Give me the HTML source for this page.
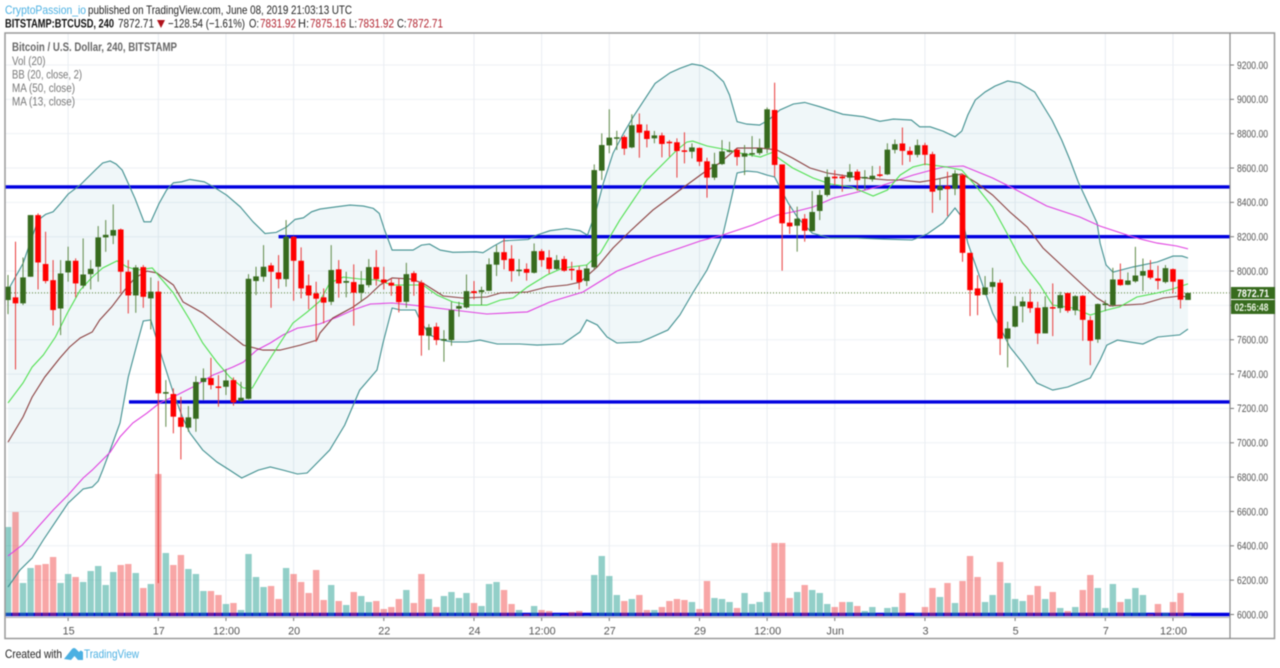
<!DOCTYPE html>
<html><head><meta charset="utf-8"><title>BTCUSD chart</title>
<style>
html,body{margin:0;padding:0;background:#fff;width:1280px;height:668px;overflow:hidden}
svg{display:block;font-family:"Liberation Sans",sans-serif;filter:blur(.4px)}
</style></head>
<body>
<svg id="chart" xmlns="http://www.w3.org/2000/svg" width="1280" height="668" viewBox="0 0 1280 668">
<rect width="1280" height="668" fill="#fff"/>
<text x="5" y="14" font-size="12" fill="#4bb0e2" textLength="81" lengthAdjust="spacingAndGlyphs">CryptoPassion_io</text>
<text x="88" y="14" font-size="12" fill="#222" textLength="264" lengthAdjust="spacingAndGlyphs">published on TradingView.com, June 08, 2019 21:03:13 UTC</text>
<text x="5" y="27.5" font-size="12" font-weight="bold" fill="#111" textLength="109" lengthAdjust="spacingAndGlyphs">BITSTAMP:BTCUSD, 240</text>
<text x="118" y="27.5" font-size="12" fill="#222" textLength="36" lengthAdjust="spacingAndGlyphs">7872.71</text>
<polygon points="157,20 165,20 161,28" fill="#b0121b"/>
<text x="168" y="27.5" font-size="12" fill="#222" textLength="77" lengthAdjust="spacingAndGlyphs">−128.54 (−1.61%)</text>
<text x="249" y="27.5" font-size="12" fill="#222" textLength="10" lengthAdjust="spacingAndGlyphs">O:</text>
<text x="260" y="27.5" font-size="12" fill="#b0202c" textLength="36" lengthAdjust="spacingAndGlyphs">7831.92</text>
<text x="298" y="27.5" font-size="12" fill="#222" textLength="11" lengthAdjust="spacingAndGlyphs">H:</text>
<text x="310" y="27.5" font-size="12" fill="#b0202c" textLength="36" lengthAdjust="spacingAndGlyphs">7875.16</text>
<text x="349" y="27.5" font-size="12" fill="#222" textLength="8" lengthAdjust="spacingAndGlyphs">L:</text>
<text x="358" y="27.5" font-size="12" fill="#b0202c" textLength="36" lengthAdjust="spacingAndGlyphs">7831.92</text>
<text x="397" y="27.5" font-size="12" fill="#222" textLength="9.5" lengthAdjust="spacingAndGlyphs">C:</text>
<text x="407" y="27.5" font-size="12" fill="#b0202c" textLength="36" lengthAdjust="spacingAndGlyphs">7872.71</text>
<g id="grid"></g>
<g id="bbfill"></g>
<g id="levels"></g>
<g id="volume"></g>
<g id="lines"></g>
<g id="candles"></g>
<g id="axes"></g>
<rect x="5" y="33" width="1269.5" height="605.5" fill="none" stroke="#999" stroke-width="1.5"/>
<line x1="1230" y1="33" x2="1230" y2="638.5" stroke="#888" stroke-width="1.2"/>
<line x1="5" y1="617.5" x2="1230" y2="617.5" stroke="#aaa" stroke-width="1"/>
<rect x="1231" y="287" width="44" height="12" fill="#376b1e"/>
<text x="1237" y="296.8" font-size="10.8" font-weight="bold" fill="#fff" textLength="32" lengthAdjust="spacingAndGlyphs">7872.71</text>
<rect x="1231" y="300" width="44" height="14" fill="#376b1e"/>
<text x="1234.5" y="310.8" font-size="10.8" font-weight="bold" fill="#e8f2e0" textLength="34" lengthAdjust="spacingAndGlyphs">02:56:48</text>
<text x="12" y="51" font-size="11.5" font-weight="bold" fill="#666" textLength="165" lengthAdjust="spacingAndGlyphs">Bitcoin / U.S. Dollar, 240, BITSTAMP</text>
<text x="12" y="65" font-size="11.5" fill="#777" textLength="33.5" lengthAdjust="spacingAndGlyphs">Vol (20)</text>
<text x="12" y="78.5" font-size="11.5" fill="#777" textLength="70" lengthAdjust="spacingAndGlyphs">BB (20, close, 2)</text>
<text x="12" y="92" font-size="11.5" fill="#777" textLength="63" lengthAdjust="spacingAndGlyphs">MA (50, close)</text>
<text x="12" y="105.5" font-size="11.5" fill="#777" textLength="63" lengthAdjust="spacingAndGlyphs">MA (13, close)</text>
<text x="5" y="658" font-size="12" fill="#222" textLength="57" lengthAdjust="spacingAndGlyphs">Created with</text>
<path d="M64 659 L72 649 Q74 647 76 649 L79 652 L80 651 Q81 650 83 652 L83 660 L78 660 L74.5 656 L71 660 Z" fill="#4bb0e2"/>
<text x="84" y="658" font-size="12" fill="#4bb0e2" textLength="55" lengthAdjust="spacingAndGlyphs">TradingView</text>
</svg>
<script>
const opens=[7831,7847,7812,7967,8326,8041,7947,7782,7992,8060,7915,7982,8025,8196,8206,8242,7996,7858,8023,7841,7880,7286,7284,7148,7088,7140,7354,7377,7328,7326,7365,7243,7256,7942,7967,8033,7992,7953,8200,8060,7916,7870,7847,7821,8010,7932,7936,7874,7918,8023,7951,7932,7913,7821,7988,7932,7623,7676,7598,7598,7781,7788,7883,7878,7885,8037,8110,8072,8000,8012,7990,8116,8079,8012,8070,8013,8006,7942,8022,8585,8732,8775,8781,8720,8854,8817,8773,8790,8753,8750,8703,8695,8717,8639,8544,8623,8697,8707,8666,8682,8687,8715,8938,8621,8282,8264,8305,8233,8350,8443,8550,8550,8544,8579,8540,8534,8563,8563,8706,8743,8700,8677,8733,8681,8471,8495,8479,8559,8106,7899,7862,7908,7932,7606,7676,7794,7821,7786,7637,7790,7784,7872,7771,7856,7714,7602,7802,7802,7951,7920,7940,7973,8006,7957,7936,8011,7951,7831.92];
const closes=[7909,7812,7963,8326,8050,7942,7773,7986,8060,7928,7980,8013,8196,8211,8239,7996,7858,8021,7850,7880,7288,7295,7152,7093,7148,7354,7377,7336,7320,7363,7235,7262,7955,7969,8025,7996,7953,8200,8060,7899,7858,7839,7816,8006,7928,7942,7874,7922,8023,7953,7932,7915,7819,7982,7938,7625,7672,7598,7604,7773,7796,7883,7872,7889,8039,8110,8064,8000,8008,7990,8116,8064,8012,8064,8002,8004,7936,8015,8588,8734,8777,8779,8713,8849,8806,8769,8790,8740,8748,8699,8697,8720,8637,8544,8623,8697,8703,8664,8686,8687,8715,8942,8618,8278,8260,8305,8235,8344,8443,8548,8540,8540,8577,8530,8548,8555,8554,8707,8739,8700,8677,8733,8677,8462,8495,8477,8568,8106,7889,7858,7905,7936,7606,7666,7796,7823,7784,7637,7790,7782,7860,7769,7854,7716,7594,7808,7811,7951,7918,7945,7974,8000,7961,7943,8017,7938,7833,7872.71];
const highs=[7977,8171,8079,8326,8336,8229,8064,8064,8142,8074,8190,8064,8262,8297,8388,8248,8064,8035,8035,7963,7942,7365,7317,7268,7214,7388,7433,7495,7394,7429,7381,7355,7982,8025,8151,8048,8093,8297,8204,8138,7980,7938,7899,8151,8064,7996,8039,8000,8070,8122,8025,7957,7957,8048,8000,7947,7691,7699,7656,7821,7821,7980,7942,7909,8074,8151,8190,8151,8070,8045,8161,8128,8122,8093,8087,8054,8029,8035,8621,8802,8942,8817,8792,8913,8918,8854,8816,8806,8763,8773,8808,8744,8720,8660,8689,8763,8753,8715,8734,8786,8771,8953,9097,8621,8379,8375,8332,8466,8472,8592,8588,8563,8623,8592,8588,8612,8612,8744,8766,8836,8724,8766,8747,8695,8539,8578,8588,8568,8106,7976,7971,8019,7951,7705,7854,7850,7895,7821,7854,7928,7879,7874,7860,7860,7738,7811,7831,8019,8044,7992,8141,8073,8064,8031,8035,8015,7951,7875.16];
const lows=[7749,7427,7802,7967,7893,7928,7683,7627,7938,7847,7899,7893,7938,8112,8157,7870,7753,7757,7786,7660,6183,7093,7055,6903,7064,7064,7249,7311,7210,7278,7216,7239,7253,7860,7938,7786,7899,7909,7827,7841,7777,7588,7695,7802,7845,7847,7682,7825,7905,7915,7893,7856,7759,7786,7856,7507,7540,7569,7472,7565,7734,7782,7835,7802,7885,7971,8010,7938,7971,7944,7986,8025,7986,8006,7996,7947,7893,7913,8010,8530,8686,8705,8676,8715,8660,8720,8744,8662,8666,8544,8627,8656,8612,8427,8530,8618,8689,8614,8559,8666,8676,8686,8550,8002,8216,8113,8171,8229,8297,8433,8501,8462,8521,8468,8472,8521,8546,8559,8685,8617,8636,8662,8617,8339,8413,8320,8442,8054,7738,7743,7860,7874,7511,7439,7672,7701,7757,7575,7637,7621,7757,7757,7743,7594,7452,7582,7767,7792,7914,7918,7932,7883,7951,7893,7928,7870,7782,7831.92];
const volumes=[89,104,33,48,51,52,59,33,42,39,34,45,50,31,44,51,52,43,28,32,142,63,51,61,47,42,25,25,21,12,13,6,62,39,29,30,17,48,42,34,23,46,16,31,15,11,24,20,14,15,7,9,17,26,13,42,17,9,20,24,18,23,13,10,32,34,26,12,6,2,10,6,5,2,1,4,5,1,41,60,40,21,15,17,21,6,6,9,15,17,16,14,7,35,18,17,14,8,23,12,14,24,73,73,18,24,31,26,23,12,9,14,14,10,5,9,2,8,9,23,1,3,9,28,19,33,13,35,60,39,14,21,54,33,17,15,21,30,17,24,8,5,9,26,41,28,8,32,14,17,28,21,2,12,3,14,23,1];

const bbUpperCandle=[0,2,3,4,5,6,7,8,9.6,11.6,12.6,13.6,14.4,15.2,16,16.9,18.1,19,20.1,21.1,22,23.1,24.2,26.1,27.3,29.1,30.9,32.6,34.2,35.7,37.1,38.2,39.3,40.4,41.5,43.7,45.5,47.3,48.6,49.4,50.1,51.1,53.9,55,56.1,57.5,59.2,62.3,63.2,64.6,65.9,69.2,70.3,72.1,74.3,76.1,77.1,78.2,79.2,80.5,81.9,83.2,84.5,86.1,88.1,89.4,91,92.3,93.8,95.2,96,97,98.3,100,101.2,102.7,104.5,106,108,111.1,113.8,116,117.8,120.2,121.3,122.7,124.4,126,126.9,127.7,128.7,130,131.3,133,134.6,136.6,138.9,140.2,141.3,142.4,143.7,144.9,145.3,146.1,147,149.7,152.9,155,156.2,157];
const bbUpperPrice=[7889,8044,8171,8297,8330,8345,8394,8448,8501,8588,8629,8641,8623,8588,8510,8423,8287,8287,8394,8472,8514,8520,8534,8520,8491,8442,8374,8287,8219,8225,8258,8301,8310,8345,8361,8374,8384,8378,8365,8336,8239,8122,8122,8151,8157,8122,8109,8112,8107,8145,8176,8184,8209,8235,8248,8235,8209,8345,8511,8686,8802,8899,8986,9093,9155,9180,9206,9196,9161,9103,9025,8870,8856,8850,8880,8938,8973,8982,8957,8913,8899,8872,8885,8879,8840,8840,8815,8782,8815,8909,8996,9043,9077,9107,9095,9043,8879,8763,8647,8518,8396,8280,8163,8035,7994,8024,8053,8087,8087,8076];
const bbLowerCandle=[0,1.6,3.2,4.7,6.3,8,10,11.2,12,12.6,13.6,14.9,16,17.2,18,19,19.8,20.6,22,23.2,24.2,25.9,27.8,29.5,31.1,33.3,34.9,36.6,38.5,39.8,41.5,42.8,44.8,46.8,49.1,49.9,51.1,52.2,54.2,54.8,56.1,57.7,59.2,61.1,62.8,65.1,68.1,70.4,73.8,76.1,77,78.4,79.7,81,84.1,85.4,87.8,89.4,91.1,93,95.1,96.1,97,98.3,99.7,101,102,102.7,103.8,105.1,107,109.4,113,116,120.3,122.3,124.4,126,126.9,127.7,129.3,131,133.3,135,136.9,139,141,144,145.3,146.2,147.6,151,153,155.9,157];
const bbLowerPrice=[6160,6259,6329,6434,6539,6649,6731,6742,6777,6841,6958,7115,7383,7581,7709,7715,7598,7482,7290,7150,7057,6958,6888,6841,6795,6841,6859,6841,6818,6824,6900,6958,7103,7307,7424,7581,7785,7773,7773,7715,7628,7598,7587,7587,7598,7575,7575,7569,7575,7645,7715,7686,7616,7581,7587,7610,7657,7744,7872,8006,8210,8396,8571,8582,8577,8559,8548,8489,8396,8309,8221,8192,8192,8187,8181,8216,8280,8367,8315,8163,7965,7756,7558,7465,7348,7307,7325,7377,7482,7569,7598,7575,7616,7628,7662];
const ma50Candle=[0,1.9,4,6,8,10,11.2,13.6,14.9,16.6,18.5,20.2,22.5,24.6,27.3,29.9,31.3,33.1,34.9,36.6,38.5,40.2,41.5,43.8,45.9,48.2,51.1,54.8,59.2,63.7,69.1,72.1,76.5,78.4,81,85.8,89.4,92.1,95.1,99.1,102.3,105,107.1,109.8,113,116,117.3,120.4,124.4,127.1,131,133.7,138.2,142.6,145.3,148.9,150.6,152.9,155.5,157];
const ma50Price=[6341,6405,6510,6608,6696,6795,6841,6946,7034,7115,7173,7232,7278,7325,7395,7441,7470,7540,7581,7628,7668,7680,7692,7732,7773,7808,7814,7797,7773,7750,7762,7820,7878,7930,8000,8082,8134,8175,8210,8268,8326,8350,8373,8425,8460,8495,8513,8559,8606,8612,8542,8483,8379,8315,8262,8210,8187,8163,8146,8129];
const basisCandle=[0,2,3.2,4.9,6.9,8.2,9.6,11.2,12.2,13.8,15.3,16.9,18.5,19.8,22,23.3,25.9,29.1,31.3,33.9,36.2,38.9,41.1,41.5,43.2,45.9,47.8,49.5,51.1,53.5,55.2,57.9,60.5,63.7,65.5,69.1,71.7,74.4,76.1,78.4,80.5,82.8,85.8,89.4,92.5,94.7,97,100.1,102.3,104.4,106.7,109,111.6,114.3,117,118.7,121.3,123.1,124.9,126.9,128.9,131,133.3,135.6,137.7,140.4,143,144.9,146.6,151,153.7,155.9,157];
const basisPrice=[7004,7150,7266,7383,7494,7558,7610,7645,7715,7791,7878,7960,8000,7989,7919,7820,7756,7645,7569,7540,7540,7569,7598,7639,7726,7790,7849,7919,7960,7954,7930,7855,7843,7849,7872,7878,7907,7919,7936,8024,8134,8233,8355,8472,8571,8629,8716,8716,8705,8658,8600,8571,8553,8541,8530,8530,8518,8530,8547,8565,8513,8443,8344,8256,8134,8024,7919,7843,7797,7808,7843,7855,7849];
const ma13Candle=[0,2,3.2,4.7,6.3,7.9,9.6,11.2,12.6,14.5,15.8,17.2,19.2,20.2,22,24.2,25.9,27.8,29.5,31.3,32.5,33.9,36.2,37.9,39.8,41.5,42.8,44.6,46.8,49.1,51.1,55.2,57.1,59.2,61.5,63.7,65.5,67.2,69.1,71.7,73.8,77,78.8,81.4,85,89,90.3,91.1,93,95.1,97.4,100.1,101.8,102.3,104.4,107.1,109.4,112.3,115.1,117,118.7,120.4,122,124.9,126.9,128.9,131,132.9,135,137.3,139,141.7,144,146.2,147.9,150.2,152.9,155,157];
const ma13Price=[7232,7348,7441,7511,7616,7756,7889,7965,8018,8059,8024,8006,8018,7965,7872,7715,7581,7470,7383,7319,7319,7424,7581,7697,7761,7825,7930,7965,7954,7948,7919,7919,7860,7820,7802,7802,7831,7843,7907,7977,8018,8035,8105,8297,8530,8705,8751,8757,8728,8711,8687,8664,8693,8664,8600,8542,8507,8489,8437,8472,8559,8606,8623,8606,8588,8489,8373,8221,8047,7919,7802,7785,7744,7773,7791,7849,7872,7896,7925];

const priceTicks=[6000,6200,6400,6600,6800,7000,7200,7400,7600,7800,8000,8200,8400,8600,8800,9000,9200];
const timeTickCandle=[8,20,29,38,50,62,71,80,92,101,110,122,134,146,155];
const timeTickLabels=["15","17","12:00","20","22","24","12:00","27","29","12:00","Jun","3","5","7","12:00"];
const levelPrices=[8490,8200,7238,6000];
const levelStartCandle=[-0.4,36,16.1,-0.4];
const lastPrice=7872.71;

const NS="http://www.w3.org/2000/svg";
const plotRight=1229.5;
function xOf(i){return 8+7.516*i;}
function yOf(p){return 614.5-(p-6000)*0.17172;}
function volHeight(v){return v*1;}
function make(tag,parent,attrs){
  const el=document.createElementNS(NS,tag);
  for(const k in attrs){el.setAttribute(k,attrs[k]);}
  parent.appendChild(el);
  return el;
}
function polyline(cs,ps){return cs.map((c,k)=>xOf(c).toFixed(1)+","+yOf(ps[k]).toFixed(1)).join(" ");}

const grid=document.getElementById("grid");
const axes=document.getElementById("axes");
priceTicks.forEach(p=>{
  const gl=make("line",grid,{x1:5,x2:plotRight,y1:yOf(p),y2:yOf(p),stroke:"#eef1f5","stroke-width":1});
  
  
  const tk=make("line",axes,{x1:1230,x2:1234,y1:yOf(p),y2:yOf(p),stroke:"#777","stroke-width":1});
  
  
  const tx=make("text",axes,{x:1237,y:yOf(p)+3.8,"font-size":11,fill:"#555",textLength:31,lengthAdjust:"spacingAndGlyphs"});
  
  
  tx.textContent=p.toFixed(2);
});
timeTickCandle.forEach((c,k)=>{
  const gl=make("line",grid,{x1:xOf(c),x2:xOf(c),y1:33,y2:617,stroke:"#e9edf2","stroke-width":1});
  
  
  const tk=make("line",axes,{x1:xOf(c),x2:xOf(c),y1:617,y2:621,stroke:"#777","stroke-width":1});
  
  
  const tx=make("text",axes,{x:xOf(c)+0.5,y:634.5,"font-size":10.8,fill:"#555","text-anchor":"middle"});
  
  
  tx.textContent=timeTickLabels[k];
});

const fillPts=polyline(bbUpperCandle,bbUpperPrice)+" "+polyline(bbLowerCandle.slice().reverse(),bbLowerPrice.slice().reverse());
const fillEl=make("polygon",document.getElementById("bbfill"),{points:fillPts,fill:"#2a90a8","fill-opacity":0.07});



const levels=document.getElementById("levels");
levelPrices.forEach((p,k)=>{
  const l=make("line",levels,{x1:xOf(levelStartCandle[k]),x2:plotRight,y1:yOf(p),y2:yOf(p),stroke:"#0000e0","stroke-width":3.4});
  
  
});

const dotted=make("line",levels,{x1:5,x2:1230,y1:yOf(lastPrice),y2:yOf(lastPrice),stroke:"#4f7a2a","stroke-width":1,"stroke-dasharray":"1 2"});



const volG=document.getElementById("volume");
volumes.forEach((v,i)=>{
  const up=closes[i]>=opens[i];
  const h=volHeight(v);
  const b=make("rect",volG,{x:xOf(i)-3.2,y:616-h,width:6.4,height:h,fill:up?"rgba(38,160,145,.5)":"rgba(240,60,60,.46)"});
  
  
});

const lineG=document.getElementById("lines");
const bu=make("polyline",lineG,{points:polyline(bbUpperCandle,bbUpperPrice),fill:"none",stroke:"#3f8f8f","stroke-width":1.1});


const bl=make("polyline",lineG,{points:polyline(bbLowerCandle,bbLowerPrice),fill:"none",stroke:"#3f8f8f","stroke-width":1.1});


const ma5=make("polyline",lineG,{points:polyline(ma50Candle,ma50Price),fill:"none",stroke:"#e040e0","stroke-width":1.1});


const bas=make("polyline",lineG,{points:polyline(basisCandle,basisPrice),fill:"none",stroke:"#8a3f3f","stroke-width":1.1});


const ma1=make("polyline",lineG,{points:polyline(ma13Candle,ma13Price),fill:"none",stroke:"#4fe04f","stroke-width":1.1});



const candleG=document.getElementById("candles");
opens.forEach((o,i)=>{
  const c=closes[i];
  const up=c>=o;
  const x=xOf(i);
  const w=make("line",candleG,{x1:x,x2:x,y1:yOf(highs[i]),y2:yOf(lows[i]),stroke:up?"#5f8a48":"#e83a3a","stroke-width":1});
  
  
  const top=yOf(Math.max(o,c));
  const bh=Math.max(1.5,yOf(Math.min(o,c))-top);
  const r=make("rect",candleG,{x:x-2.8,y:top,width:5.6,height:bh,fill:up?"#376b1e":"#ff0000"});
  
  
});
</script>
</body></html>
